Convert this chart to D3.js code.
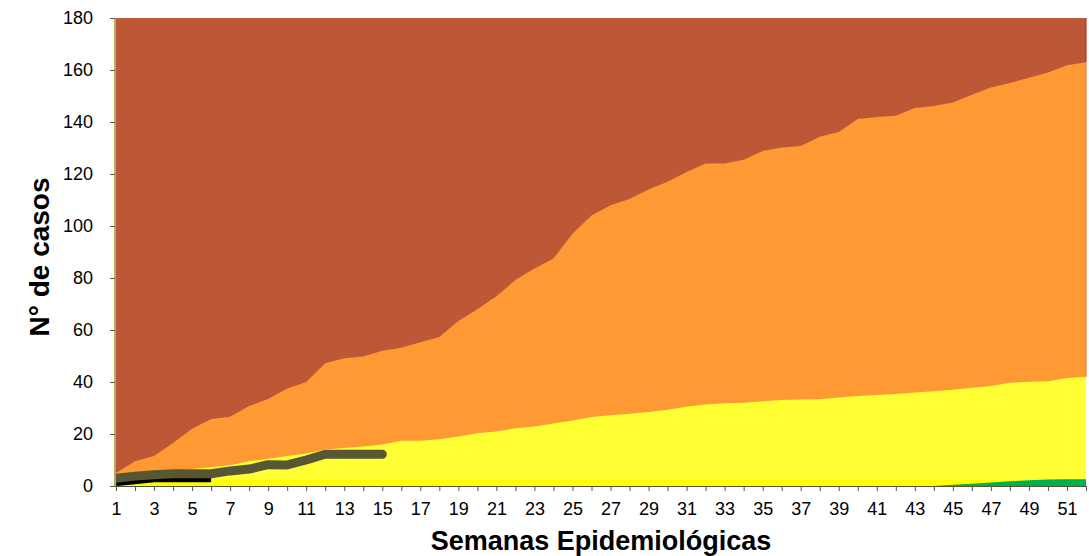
<!DOCTYPE html>
<html lang="es">
<head>
    <meta charset="UTF-8">
    <title>Canal endémico</title>
    <script src="https://d3js.org/d3.v7.min.js"></script>
    <style>
        body { margin: 0; background: #fff; }
        svg { display: block; font-family: "Liberation Sans", Arial, sans-serif; }
    </style>
</head>
<body>
    <script>
        // Datos
        const semanas = d3.range(1, 53);
        const ticksY = [0, 20, 40, 60, 80, 100, 120, 140, 160, 180];

        // zona de epidemia (rellena todo el grafico)
        const epidemia = [180,180,180,180,180,180,180,180,180,180,180,180,180,180,180,180,180,180,180,180,180,180,180,180,180,180,
                          180,180,180,180,180,180,180,180,180,180,180,180,180,180,180,180,180,180,180,180,180,180,180,180,180,180];
        // zona de alerta (percentil superior)
        const alerta = [5, 9.5, 11.5, 16.5, 22, 25.8, 26.6, 30.8, 33.5, 37.5, 40, 47.2, 49.1, 49.8, 52, 53.2, 55.3, 57.3, 63.5, 68,
                        73, 79.2, 83.7, 87.5, 97, 104, 108, 110.4, 114, 117, 120.8, 124, 124, 125.5, 128.8, 130.2, 130.8, 134.3,
                        136.2, 141.2, 141.9, 142.4, 145.4, 146.2, 147.5, 150.5, 153.3, 155, 157, 159, 161.8, 163];
        // zona de seguridad (mediana)
        const seguridad = [3.5, 4.5, 5, 5.5, 6.5, 7.2, 8, 9.5, 10.5, 11.5, 12.5, 14, 14.6, 15.2, 16, 17.4, 17.4, 18, 19, 20.3,
                           21, 22.2, 22.9, 24, 25.2, 26.5, 27.2, 27.8, 28.5, 29.3, 30.5, 31.3, 31.8, 32, 32.6, 33.1, 33.3, 33.4,
                           34, 34.6, 35, 35.4, 36, 36.4, 37, 37.8, 38.5, 39.7, 40.1, 40.3, 41.5, 42];
        // franja amarilla del fondo
        const franja = [2.4,2.4,2.4,2.4,2.4,2.4,2.4,2.4,2.4,2.4,2.4,2.4,2.4,2.4,2.4,2.4,2.4,2.4,2.4,2.4,2.4,2.4,2.4,2.4,2.4,2.4,
                        2.4,2.4,2.4,2.4,2.4,2.4,2.4,2.4,2.4,2.4,2.4,2.4,2.4,2.4,2.4,2.4,2.4,2.4,2.4,2.4,2.4,2.4,2.4,2.4,2.4,2.4];
        // zona de exito (percentil inferior)
        const exito = [0,0,0,0,0,0,0,0,0,0,0,0,0,0,0,0,0,0,0,0,0,0,0,0,0,0,0,0,0,0,0,0,0,0,0,0,0,0,0,0,0,0,0,
                       0, 0.5, 0.9, 1.3, 1.8, 2.2, 2.5, 2.6, 2.6];
        // casos del año actual
        const casosActual = [3, 3.8, 4.3, 4.7, 4.7, 4.7, 5.8, 6.5, 8.2, 8.1, 10, 12.2, 12.2, 12.2, 12.2];
        const casosPrevio = [1.3, 2, 2.8, 2.8, 2.8, 2.8];

        // Variables basicas
        const w = 1089;
        const h = 556;
        const mIzq = 116, mDer = 1086, mSup = 18, mInf = 486;

        let svg = d3.select('body')
                    .append('svg')
                    .attr('width', w)
                    .attr('height', h);

        // recorte del area de trazado
        svg.append('clipPath')
            .attr('id', 'recorte')
            .append('rect')
            .attr('x', mIzq).attr('y', mSup)
            .attr('width', mDer - mIzq).attr('height', mInf - mSup);

        // Escalas
        let xScale = d3.scaleLinear().domain([1, 52]).range([mIzq, mDer]);
        let yScale = d3.scaleLinear().domain([0, 180]).range([mInf, mSup]);

        // fondo claro a la izquierda del eje
        svg.append('rect')
            .attr('x', mIzq - 5).attr('y', mSup)
            .attr('width', 5).attr('height', mInf - mSup)
            .attr('fill', '#FFFFD8');

        // Areas superpuestas (cada una desde 0)
        const capas = [
            { valores: epidemia, color: '#BC5836' },
            { valores: alerta, color: '#FF9933' },
            { valores: seguridad, color: '#FFFF33' },
            { valores: franja, color: '#FFFF00' },
            { valores: exito, color: '#00B050' }
        ];
        let area = d3.area()
                     .x((d, i) => xScale(semanas[i]))
                     .y0(yScale(0))
                     .y1(d => yScale(d));
        svg.selectAll('path.capa')
            .data(capas)
            .enter()
            .append('path')
            .attr('class', 'capa')
            .attr('d', d => area(d.valores))
            .attr('fill', d => d.color);

        // borde derecho de las areas
        svg.append('line')
            .attr('x1', mDer).attr('x2', mDer)
            .attr('y1', yScale(180)).attr('y2', yScale(alerta[51]))
            .attr('stroke', '#B02010').attr('stroke-width', 1);
        svg.append('line')
            .attr('x1', mDer).attr('x2', mDer)
            .attr('y1', yScale(alerta[51])).attr('y2', yScale(seguridad[51]))
            .attr('stroke', '#F07020').attr('stroke-width', 1);

        // Lineas de casos
        let linea = d3.line()
                      .x((d, i) => xScale(semanas[i]))
                      .y(d => yScale(d));
        let gLineas = svg.append('g').attr('clip-path', 'url(#recorte)');
        gLineas.append('path')
            .attr('d', linea(casosPrevio))
            .attr('fill', 'none')
            .attr('stroke', '#000000')
            .attr('stroke-width', 7);
        gLineas.append('path')
            .attr('d', linea(casosActual))
            .attr('fill', 'none')
            .attr('stroke', '#575733')
            .attr('stroke-width', 9)
            .attr('stroke-linecap', 'round')
            .attr('stroke-linejoin', 'round');

        // Ejes
        let xAxis = d3.axisBottom(xScale)
                      .tickValues(semanas)
                      .tickSize(5)
                      .tickFormat(d => (d % 2 === 1 ? d : ''));
        let yAxis = d3.axisLeft(yScale)
                      .tickValues(ticksY)
                      .tickSize(5);

        let gx = svg.append('g')
            .attr('transform', `translate(0,${mInf})`)
            .call(xAxis);
        let gy = svg.append('g')
            .attr('transform', `translate(${mIzq - 1},0)`)
            .call(yAxis);

        gx.select('.domain').attr('stroke', '#555533').attr('d', `M${mIzq - 6},0.5H${mDer}`);
        gy.select('.domain').attr('stroke', '#555533').attr('d', `M0,${mSup}V${mInf}`);
        gx.selectAll('.tick line').attr('stroke', '#555');
        gy.selectAll('.tick line').attr('stroke', '#555');
        gx.selectAll('.tick text')
            .attr('y', 16)
            .style('font-size', '18px')
            .style('font-family', '"Liberation Sans", Arial, sans-serif')
            .attr('fill', '#000');
        gy.selectAll('.tick text')
            .attr('x', -22)
            .style('font-size', '18px')
            .style('font-family', '"Liberation Sans", Arial, sans-serif')
            .attr('fill', '#000');

        // Titulos de los ejes
        svg.append('text')
            .attr('x', 601)
            .attr('y', 550)
            .attr('text-anchor', 'middle')
            .style('font-size', '27px')
            .style('font-weight', 'bold')
            .text('Semanas Epidemiológicas');
        svg.append('text')
            .attr('transform', 'translate(49,257) rotate(-90)')
            .attr('text-anchor', 'middle')
            .style('font-size', '28px')
            .style('font-weight', 'bold')
            .text('N° de casos');
    </script>
</body>
</html>
